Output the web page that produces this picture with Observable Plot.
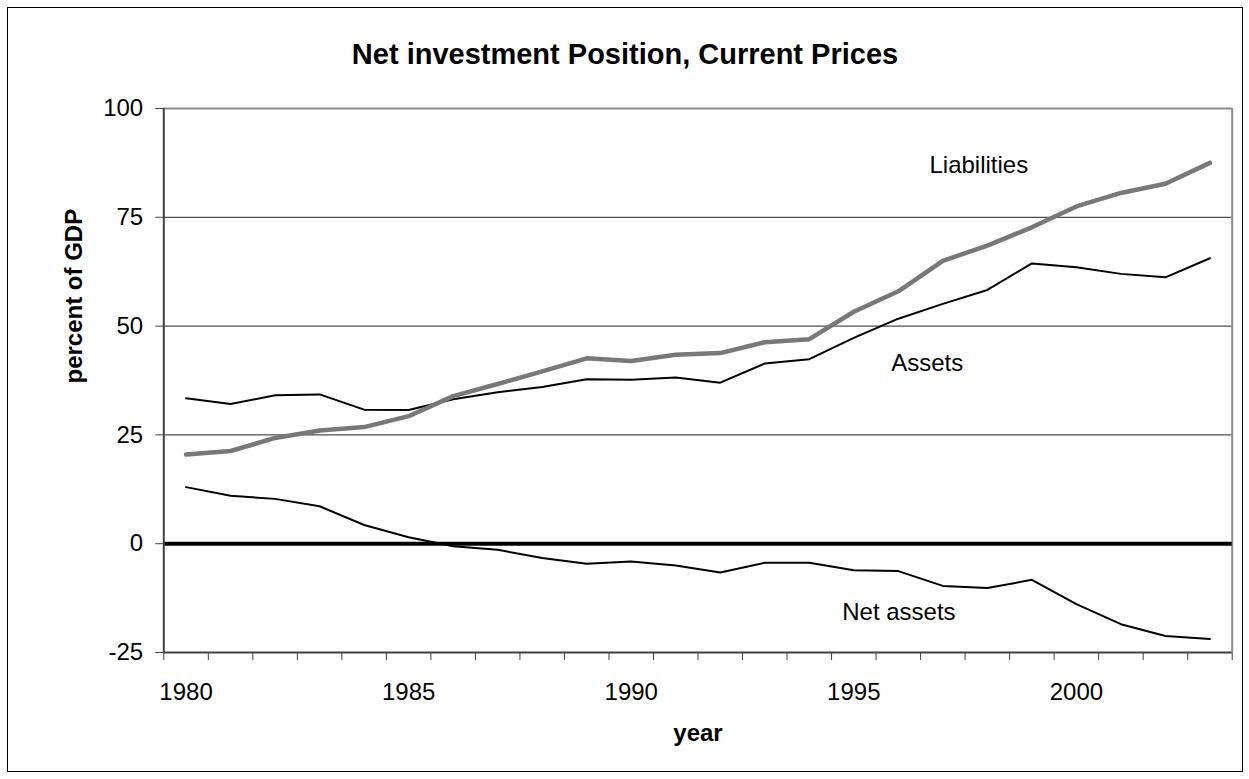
<!DOCTYPE html>
<html>
<head>
<meta charset="utf-8">
<script src="https://cdn.jsdelivr.net/npm/d3@7"></script>
<script src="https://cdn.jsdelivr.net/npm/@observablehq/plot@0.6"></script>
<style>
html, body { margin: 0; padding: 0; background: #fff; }
body { width: 1249px; height: 779px; position: relative; overflow: hidden; font-family: Arial, "Liberation Sans", sans-serif; }
#frame { position: absolute; left: 7px; top: 7px; width: 1236px; height: 765px; border: 1.5px solid #000; box-sizing: border-box; }
#title { position: absolute; left: 7px; width: 1236px; top: 38px; text-align: center; font-weight: bold; font-size: 29px; line-height: 32px; color: #000; }
#chart { position: absolute; left: 0; top: 80px; }
</style>
</head>
<body>
<div id="frame"></div>
<div id="title">Net investment Position, Current Prices</div>
<div id="chart"></div>
<script>
const years = [1980, 1981, 1982, 1983, 1984, 1985, 1986, 1987, 1988, 1989, 1990, 1991,
               1992, 1993, 1994, 1995, 1996, 1997, 1998, 1999, 2000, 2001, 2002, 2003];
const liabilities = [20.5, 21.3, 24.3, 26.0, 26.8, 29.3, 33.9, 36.7, 39.6, 42.6, 42.0, 43.4,
                     43.8, 46.3, 47.0, 53.3, 58.0, 65.0, 68.5, 72.7, 77.5, 80.6, 82.7, 87.5];
const assets = [33.4, 32.1, 34.1, 34.3, 30.8, 30.7, 33.2, 34.8, 36.0, 37.8, 37.7, 38.2,
                37.0, 41.4, 42.4, 47.3, 51.7, 55.1, 58.3, 64.4, 63.5, 62.0, 61.2, 65.6];
const netAssets = [13.0, 11.0, 10.3, 8.6, 4.3, 1.5, -0.6, -1.4, -3.3, -4.6, -4.1, -5.0,
                   -6.6, -4.4, -4.4, -6.1, -6.3, -9.7, -10.2, -8.3, -13.9, -18.5, -21.2, -21.9];
const yTicks = [-25, 0, 25, 50, 75, 100];
const xLabelYears = [1980, 1985, 1990, 1995, 2000];
const seriesNames = ["Liabilities", "Assets", "Net assets"];

const rows = [];
years.forEach((yr, i) => {
  rows.push({year: yr, value: liabilities[i], series: seriesNames[0]});
  rows.push({year: yr, value: assets[i], series: seriesNames[1]});
  rows.push({year: yr, value: netAssets[i], series: seriesNames[2]});
});

const x0 = years[0] - 0.5, x1 = years[years.length - 1] + 0.5;
const boundaries = d3.range(x0, x1 + 0.01, 1);
const axisColor = "#404040";

const chart = Plot.plot({
  width: 1249,
  height: 690,
  marginTop: 28,
  marginBottom: 118,
  marginLeft: 163.3,
  marginRight: 17.3,
  x: {domain: [x0, x1], label: null},
  y: {domain: [yTicks[0], yTicks[yTicks.length - 1]], label: null},
  style: {fontFamily: "Arial, 'Liberation Sans', sans-serif", fontSize: "24px", color: "#000", background: "transparent", overflow: "visible"},
  marks: [
    Plot.gridY([25, 50, 75], {stroke: "#222", strokeOpacity: 1, strokeWidth: 1}),
    Plot.ruleY([yTicks[yTicks.length - 1]], {stroke: "#8c8c8c", strokeWidth: 2}),
    Plot.ruleX([x1], {stroke: "#8c8c8c", strokeWidth: 2}),
    Plot.ruleY([0], {stroke: "#000", strokeWidth: 4}),
    Plot.line(rows.filter(d => d.series === "Assets"), {x: "year", y: "value", stroke: "#000", strokeWidth: 2}),
    Plot.line(rows.filter(d => d.series === "Net assets"), {x: "year", y: "value", stroke: "#000", strokeWidth: 2}),
    Plot.line(rows.filter(d => d.series === "Liabilities"), {x: "year", y: "value", stroke: "#787878", strokeWidth: 4.5}),
    Plot.ruleX([x0], {stroke: axisColor, strokeWidth: 2}),
    Plot.ruleY([yTicks[0]], {stroke: axisColor, strokeWidth: 2}),
    Plot.axisY(yTicks, {tickSize: 8, tickPadding: 12.6, tickFormat: d => String(d), label: null, stroke: axisColor, fontSize: 24}),
    Plot.axisX(boundaries, {tickSize: 8, tickFormat: () => "", label: null, stroke: axisColor}),
    Plot.axisX(xLabelYears, {tickSize: 0, tickPadding: 30, tickFormat: d => String(d), label: null, fontSize: 24}),
    Plot.text([seriesNames[0]], {text: d => d, x: 1996.7, y: 85.1, textAnchor: "start", lineAnchor: "bottom", fontSize: 24}),
    Plot.text([seriesNames[1]], {text: d => d, x: 1995.84, y: 39.6, textAnchor: "start", lineAnchor: "bottom", fontSize: 24}),
    Plot.text([seriesNames[2]], {text: d => d, x: 1994.74, y: -17.5, textAnchor: "start", lineAnchor: "bottom", fontSize: 24}),
    Plot.text(["year"], {text: d => d, frameAnchor: "bottom", dy: 88, lineAnchor: "bottom", fontWeight: "bold", fontSize: 24}),
    Plot.text(["percent of GDP"], {text: d => d, frameAnchor: "left", dx: -82.3, dy: 3, rotate: -90, lineAnchor: "bottom", fontWeight: "bold", fontSize: 24})
  ]
});
document.getElementById("chart").appendChild(chart);
</script>
</body>
</html>
